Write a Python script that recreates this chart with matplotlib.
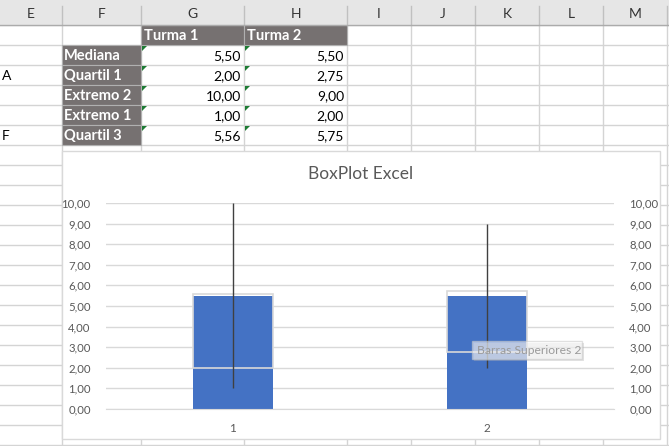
import matplotlib
matplotlib.use("Agg")
import matplotlib.pyplot as plt
from matplotlib.patches import Rectangle, Polygon
import numpy as np

plt.rcParams['font.family'] = ['Lato', 'DejaVu Sans']

# ---------------- data ----------------
categories = ['1', '2']
series_names = ['Turma 1', 'Turma 2']
row_labels = ['Mediana', 'Quartil 1', 'Extremo 2', 'Extremo 1', 'Quartil 3']
mediana = [5.50, 5.50]
quartil1 = [2.00, 2.75]
extremo2 = [10.00, 9.00]
extremo1 = [1.00, 2.00]
quartil3 = [5.56, 5.75]
col_letters = ['E', 'F', 'G', 'H', 'I', 'J', 'K', 'L', 'M']
side_letters = ['A', 'F']
y_ticks = [0, 1, 2, 3, 4, 5, 6, 7, 8, 9, 10]
title = 'BoxPlot Excel'
tooltip = 'Barras Superiores 2'

W, H = 669, 446
fig = plt.figure(figsize=(W / 100, H / 100), dpi=100)
fig.patch.set_facecolor('white')

# ---------------- spreadsheet background (pixel coords) ----------------
bg = fig.add_axes([0, 0, 1, 1], zorder=0)
bg.set_xlim(0, W)
bg.set_ylim(H, 0)
bg.axis('off')

col_edges = [0, 62, 141, 244, 347, 411, 475, 539, 603, 667]
grid_c = '#d4d4d4'
for y in range(25, H + 1, 20):
    bg.plot([0, W], [y, y], color=grid_c, lw=1, zorder=1)
for x in col_edges[1:]:
    bg.plot([x, x], [25, H], color=grid_c, lw=1, zorder=1)
# header row
bg.add_patch(Rectangle((0, 0), W, 25, fc='#e6e6e6', ec='none', zorder=2))
for x in col_edges[1:]:
    bg.plot([x, x], [6, 25], color='#c0c0c0', lw=1, zorder=3)
bg.plot([0, W], [25, 25], color='#ababab', lw=1, zorder=3)
for i, c in enumerate(col_letters):
    xc = (col_edges[i] + col_edges[i + 1]) / 2
    bg.text(xc, 14, c, ha='center', va='center', fontsize=10, color='#333333', zorder=4)

dark = '#767171'
fs_tab = 10.5
for j, name in enumerate(series_names):
    x0, x1 = col_edges[2 + j], col_edges[3 + j]
    bg.add_patch(Rectangle((x0, 25), x1 - x0, 20, fc=dark, ec='#b0b0b0', lw=0.8, zorder=2))
    bg.text(x0 + 3, 36, name, ha='left', va='center', fontsize=fs_tab, fontweight='bold',
            color='white', zorder=4)
table_vals = [mediana, quartil1, extremo2, extremo1, quartil3]
for r, lab in enumerate(row_labels):
    y0 = 45 + 20 * r
    bg.add_patch(Rectangle((62, y0), 79, 20, fc=dark, ec='#b0b0b0', lw=0.8, zorder=2))
    bg.text(64, y0 + 11, lab, ha='left', va='center', fontsize=fs_tab, fontweight='bold',
            color='white', zorder=4)
    for j in range(2):
        x0, x1 = col_edges[2 + j], col_edges[3 + j]
        bg.text(x1 - 3, y0 + 11, f'{table_vals[r][j]:.2f}'.replace('.', ','),
                ha='right', va='center', fontsize=10, color='black', zorder=4)
        bg.add_patch(Polygon([(x0 + 1, y0 + 1), (x0 + 6, y0 + 1), (x0 + 1, y0 + 6)],
                             closed=True, fc='#1e7b34', ec='none', zorder=5))
bg.text(2, 76, side_letters[0], ha='left', va='center', fontsize=10, color='black', zorder=4)
bg.text(2, 136, side_letters[1], ha='left', va='center', fontsize=10, color='black', zorder=4)

# chart area
bg.add_patch(Rectangle((62, 151), 598, 288, fc='white', ec='#d9d9d9', lw=1, zorder=6))
bg.text(361, 174, title, ha='center', va='center', fontsize=12.5, color='#595959', zorder=7)

# ---------------- chart ----------------
px_l, px_r, px_t, px_b = 106, 614, 203, 409
ax = fig.add_axes([px_l / W, (H - px_b) / H, (px_r - px_l) / W, (px_b - px_t) / H], zorder=2)
ax.patch.set_alpha(0)
x = np.arange(len(categories))
bw = 0.315
ax.bar(x, mediana, width=bw, color='#4472c4', zorder=2)
ax.bar(x, np.array(quartil3) - np.array(quartil1), bottom=quartil1, width=bw,
       fill=False, edgecolor='#d9d9d9', lw=1.2, zorder=3)
ax.vlines(x, extremo1, extremo2, color='#404040', lw=1, zorder=4)
ax.set_xlim(-0.5, len(categories) - 0.5)
ax.set_ylim(0, 10)
ax.set_yticks(y_ticks)
ax.set_yticklabels([f'{v:.2f}'.replace('.', ',') for v in y_ticks])
ax.set_xticks(x)
ax.set_xticklabels(categories)
ax.yaxis.grid(True, color='#d9d9d9', lw=1, zorder=0)
ax.set_axisbelow(True)
for s in ['top', 'left', 'right']:
    ax.spines[s].set_visible(False)
ax.spines['bottom'].set_color('#d9d9d9')
ax.tick_params(axis='y', length=0, pad=11, labelsize=8.2, labelcolor='#595959',
               labelleft=True, labelright=True)
ax.tick_params(axis='x', length=0, pad=10, labelsize=8.5, labelcolor='#595959')

# ---------------- tooltip overlay ----------------
top = fig.add_axes([0, 0, 1, 1], zorder=5)
top.set_xlim(0, W)
top.set_ylim(H, 0)
top.axis('off')
top.add_patch(Rectangle((474, 343), 110, 18, fc='#b0b0b0', ec='none', alpha=0.35, zorder=1))
top.add_patch(Rectangle((472, 341), 110, 18, fc='white', ec='#c8c8c8', lw=1, alpha=0.55, zorder=2))
top.text(477, 350.5, tooltip, ha='left', va='center', fontsize=8.7, color='#9a9a9a', zorder=3)

fig.savefig('out.png', dpi=100, facecolor='white')
